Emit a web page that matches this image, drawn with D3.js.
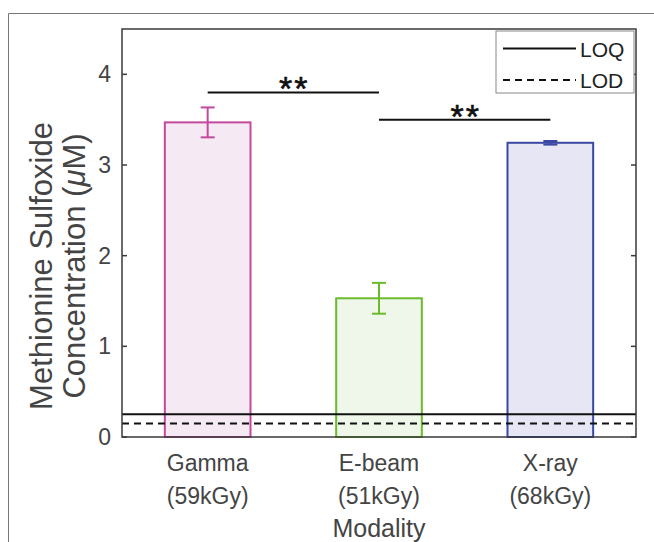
<!DOCTYPE html>
<html>
<head>
<meta charset="utf-8">
<script src="https://cdn.jsdelivr.net/npm/d3@7"></script>
<style>
  body { margin: 0; background: #fff; }
  svg { display: block; font-family: "Liberation Sans", Arial, sans-serif; }
</style>
</head>
<body>
<div id="chart"></div>
<script>
// data
const categories = ["Gamma", "E-beam", "X-ray"];
const doses = ["(59kGy)", "(51kGy)", "(68kGy)"];
const means = [3.47, 1.53, 3.245];
const errors = [0.165, 0.17, 0.02];
const strokeColors = ["#c4489c", "#6cbb2c", "#3a48a3"];
const fillColors = ["#f5eaf3", "#eff6ea", "#e7e6f4"];
const yTicks = [0, 1, 2, 3, 4];
const loq = 0.25;
const lod = 0.15;
const sigPairs = [[0, 1], [1, 2]];
const sigHeights = [3.8, 3.5];
const sigLabels = ["**", "**"];

var width = 654, height = 542;
var margin = { top: 29, right: 18, bottom: 105, left: 122 };
var innerW = width - margin.left - margin.right,
    innerH = height - margin.top - margin.bottom;

var svg = d3.select("#chart")
    .append("svg")
    .attr("width", width)
    .attr("height", height);

// outer figure frame (top and left edge)
svg.append("path")
    .attr("d", "M8.5,542 L8.5,13.5 L654,13.5")
    .attr("fill", "none")
    .attr("stroke", "#777")
    .attr("stroke-width", 1);

var g = svg.append("g")
    .attr("transform", "translate(" + margin.left + "," + margin.top + ")");

var x = d3.scaleBand()
    .domain(categories)
    .range([0, innerW])
    .paddingInner(0.5)
    .paddingOuter(0.25);

var y = d3.scaleLinear()
    .domain([0, 4.5])
    .range([innerH, 0]);

var data = categories.map((c, i) => ({
    cat: c, dose: doses[i], mean: means[i], err: errors[i],
    stroke: strokeColors[i], fill: fillColors[i]
}));

// bars
g.selectAll("rect.bar")
    .data(data)
    .enter()
    .append("rect")
    .attr("class", "bar")
    .attr("x", d => x(d.cat))
    .attr("y", d => y(d.mean))
    .attr("width", x.bandwidth())
    .attr("height", d => innerH - y(d.mean))
    .attr("fill", d => d.fill)
    .attr("stroke", d => d.stroke)
    .attr("stroke-width", 2);

// error bars
var capW = 14;
var eb = g.selectAll("g.err")
    .data(data)
    .enter()
    .append("g")
    .attr("class", "err")
    .attr("stroke", d => d.stroke)
    .attr("stroke-width", 2);

eb.append("line")
    .attr("x1", d => x(d.cat) + x.bandwidth() / 2)
    .attr("x2", d => x(d.cat) + x.bandwidth() / 2)
    .attr("y1", d => y(d.mean + d.err))
    .attr("y2", d => y(d.mean - d.err));
eb.append("line")
    .attr("x1", d => x(d.cat) + x.bandwidth() / 2 - capW / 2)
    .attr("x2", d => x(d.cat) + x.bandwidth() / 2 + capW / 2)
    .attr("y1", d => y(d.mean + d.err))
    .attr("y2", d => y(d.mean + d.err));
eb.append("line")
    .attr("x1", d => x(d.cat) + x.bandwidth() / 2 - capW / 2)
    .attr("x2", d => x(d.cat) + x.bandwidth() / 2 + capW / 2)
    .attr("y1", d => y(d.mean - d.err))
    .attr("y2", d => y(d.mean - d.err));

// LOQ / LOD lines
g.append("line")
    .attr("x1", 0).attr("x2", innerW)
    .attr("y1", y(loq)).attr("y2", y(loq))
    .attr("stroke", "#111").attr("stroke-width", 2);
g.append("line")
    .attr("x1", 0).attr("x2", innerW)
    .attr("y1", y(lod)).attr("y2", y(lod))
    .attr("stroke", "#111").attr("stroke-width", 2)
    .attr("stroke-dasharray", "7,5");

// significance brackets
var center = c => x(c) + x.bandwidth() / 2;
sigPairs.forEach((p, i) => {
    var x1 = center(categories[p[0]]), x2 = center(categories[p[1]]);
    g.append("line")
        .attr("x1", x1).attr("x2", x2)
        .attr("y1", y(sigHeights[i])).attr("y2", y(sigHeights[i]))
        .attr("stroke", "#111").attr("stroke-width", 2);
    g.append("text")
        .attr("x", (x1 + x2) / 2 + 1)
        .attr("y", y(sigHeights[i]) + 8)
        .attr("text-anchor", "middle")
        .style("font-size", "34px")
        .style("letter-spacing", "2px")
        .attr("fill", "#111")
        .attr("stroke", "#111")
        .attr("stroke-width", 0.6)
        .text(sigLabels[i]);
});

// axes box
g.append("rect")
    .attr("x", 0).attr("y", 0)
    .attr("width", innerW).attr("height", innerH)
    .attr("fill", "none")
    .attr("stroke", "#3a3a3a")
    .attr("stroke-width", 1.5);

// y ticks (inward on both sides)
g.selectAll("line.ytl")
    .data(yTicks).enter()
    .append("line")
    .attr("x1", 0).attr("x2", 5)
    .attr("y1", d => y(d)).attr("y2", d => y(d))
    .attr("stroke", "#3a3a3a").attr("stroke-width", 1.5);
g.selectAll("line.ytr")
    .data(yTicks).enter()
    .append("line")
    .attr("x1", innerW - 5).attr("x2", innerW)
    .attr("y1", d => y(d)).attr("y2", d => y(d))
    .attr("stroke", "#3a3a3a").attr("stroke-width", 1.5);

g.selectAll("text.ytick")
    .data(yTicks).enter()
    .append("text")
    .attr("x", -11)
    .attr("y", d => y(d) + 8)
    .attr("text-anchor", "end")
    .attr("fill", "#444")
    .style("font-size", "23px")
    .text(d => d);

// x tick labels (two lines)
var xl = g.selectAll("text.xtick")
    .data(data).enter()
    .append("text")
    .attr("text-anchor", "middle")
    .attr("fill", "#444")
    .style("font-size", "23px");
xl.append("tspan")
    .attr("x", d => center(d.cat))
    .attr("y", innerH + 34)
    .text(d => d.cat);
xl.append("tspan")
    .attr("x", d => center(d.cat))
    .attr("y", innerH + 67)
    .text(d => d.dose);

// axis labels
g.append("text")
    .attr("x", innerW / 2 + 0)
    .attr("y", innerH + 100)
    .attr("text-anchor", "middle")
    .attr("fill", "#444")
    .style("font-size", "25px")
    .text("Modality");

var yl = svg.append("text")
    .attr("transform", "translate(0,266) rotate(-90)")
    .attr("text-anchor", "middle")
    .attr("fill", "#444")
    .style("font-size", "31px");
yl.append("tspan").attr("x", 0).attr("y", 52).text("Methionine Sulfoxide");
yl.append("tspan").attr("x", 0).attr("y", 85)
    .text("Concentration (")
    .append("tspan").style("font-style", "italic").text("\u03bc");
yl.append("tspan").text("M)");

// legend
var leg = svg.append("g").attr("transform", "translate(496,31)");
leg.append("rect")
    .attr("width", 138).attr("height", 62)
    .attr("fill", "#fff")
    .attr("stroke", "#888").attr("stroke-width", 1);
var legItems = [{ label: "LOQ", dash: null }, { label: "LOD", dash: "7,5" }];
legItems.forEach((d, i) => {
    var yy = 17.5 + i * 31.5;
    leg.append("line")
        .attr("x1", 7).attr("x2", 80)
        .attr("y1", yy).attr("y2", yy)
        .attr("stroke", "#111").attr("stroke-width", 2)
        .attr("stroke-dasharray", d.dash);
    leg.append("text")
        .attr("x", 84).attr("y", yy + 8)
        .attr("fill", "#222")
        .style("font-size", "21px")
        .text(d.label);
});
</script>
</body>
</html>
